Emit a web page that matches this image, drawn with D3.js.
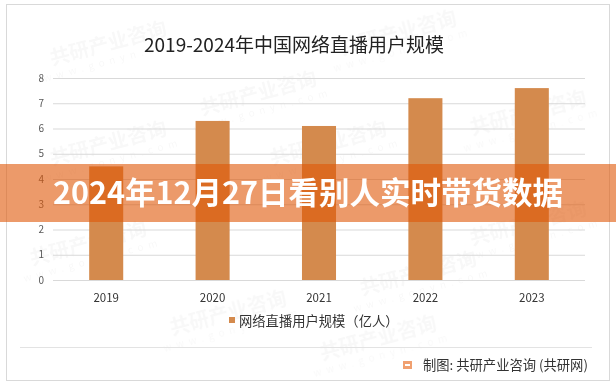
<!DOCTYPE html>
<html>
<head>
<meta charset="utf-8">
<script src="https://cdn.jsdelivr.net/npm/d3@7"></script>
<style>
  body { margin: 0; background: #fff; }
  svg { display: block; font-family: "Noto Sans CJK SC", "Noto Sans", sans-serif; }
</style>
</head>
<body>
<svg width="616" height="387"></svg>
<script>
var years = ["2019", "2020", "2021", "2022", "2023"]
var users = [4.5, 6.3, 6.1, 7.2, 7.6]
var yTicks = [0, 1, 2, 3, 4, 5, 6, 7, 8]
var chartTitle = "2019-2024年中国网络直播用户规模"
var legendLabel = "网络直播用户规模（亿人）"
var sourceLabel = "制图: 共研产业咨询 (共研网)"
var bannerText = "2024年12月27日看别人实时带货数据"
var watermarks = [[110, 50], [260, 100], [400, 40], [530, 120], [110, 150], [330, 150], [90, 250], [230, 320], [420, 280], [530, 230], [380, 345]]

var svg = d3.select("svg")

// outer frame
svg.append("rect").attr("x", 6.5).attr("y", 4.5).attr("width", 603).attr("height", 376)
    .attr("fill", "#fff").attr("stroke", "#d9d9d9")

// faint watermarks
var wm = svg.append("g").attr("fill", "#000").attr("opacity", 0.03)
watermarks.forEach(function (p) {
    var g = wm.append("g").attr("transform", "translate(" + p[0] + "," + p[1] + ") rotate(-15)")
    g.append("text").attr("text-anchor", "middle").attr("font-size", 20).attr("font-weight", "bold").text("共研产业咨询")
    g.append("text").attr("y", 14).attr("text-anchor", "middle").attr("font-size", 10).attr("letter-spacing", 5).text("www.gonyn.com")
})

var x = d3.scaleBand().domain(years).range([53, 585]).paddingInner(0.68).paddingOuter(0.34)
var y = d3.scaleLinear().domain([0, 8]).range([280, 78])

// gridlines
svg.append("g").selectAll("line").data(yTicks).enter().append("line")
    .attr("x1", 53).attr("x2", 585)
    .attr("y1", d => y(d) + 0.5).attr("y2", d => y(d) + 0.5)
    .attr("stroke", "#d9d9d9")

// y tick labels
svg.append("g").selectAll("text").data(yTicks).enter().append("text")
    .attr("x", 44).attr("y", d => y(d)).attr("dy", "0.35em")
    .attr("text-anchor", "end").attr("font-size", 10).attr("fill", "#595959")
    .text(d => d)

// bars
svg.append("g").selectAll("rect").data(users).enter().append("rect")
    .attr("x", (d, i) => x(years[i]))
    .attr("width", x.bandwidth())
    .attr("y", d => y(d))
    .attr("height", d => 280 - y(d))
    .attr("fill", "#d48a4d")

// x labels
svg.append("g").selectAll("text").data(years).enter().append("text")
    .attr("x", d => x(d) + x.bandwidth() / 2).attr("y", 298).attr("dy", "0.35em")
    .attr("text-anchor", "middle").attr("font-size", 11.5).attr("fill", "#333")
    .text(d => d)

// title
svg.append("text").attr("x", 294).attr("y", 52).attr("text-anchor", "middle")
    .attr("font-size", 19).attr("fill", "#222").text(chartTitle)

// legend
svg.append("rect").attr("x", 229).attr("y", 317).attr("width", 6).attr("height", 6).attr("fill", "#d48a4d")
svg.append("text").attr("x", 239).attr("y", 321).attr("dy", "0.35em")
    .attr("font-size", 13.3).attr("fill", "#333").text(legendLabel)

// separator and source
svg.append("line").attr("x1", 20).attr("x2", 592).attr("y1", 347.5).attr("y2", 347.5).attr("stroke", "#e3e3e3")
var icon = svg.append("g").attr("transform", "translate(403,361)")
icon.append("rect").attr("width", 9).attr("height", 8).attr("fill", "#f0a070")
icon.append("rect").attr("x", 2).attr("y", 3).attr("width", 5).attr("height", 2).attr("fill", "#fff")
svg.append("text").attr("x", 423).attr("y", 365).attr("dy", "0.35em")
    .attr("font-size", 13.3).attr("fill", "#333").text(sourceLabel)

// overlay banner
svg.append("rect").attr("x", 0).attr("y", 164).attr("width", 616).attr("height", 58)
    .attr("fill", "rgb(223,87,7)").attr("fill-opacity", 0.6)
svg.append("text").attr("x", 308).attr("y", 193).attr("dy", "0.35em")
    .attr("text-anchor", "middle").attr("font-size", 30.5).attr("font-weight", "bold")
    .attr("fill", "#fff").text(bannerText)
</script>
</body>
</html>
